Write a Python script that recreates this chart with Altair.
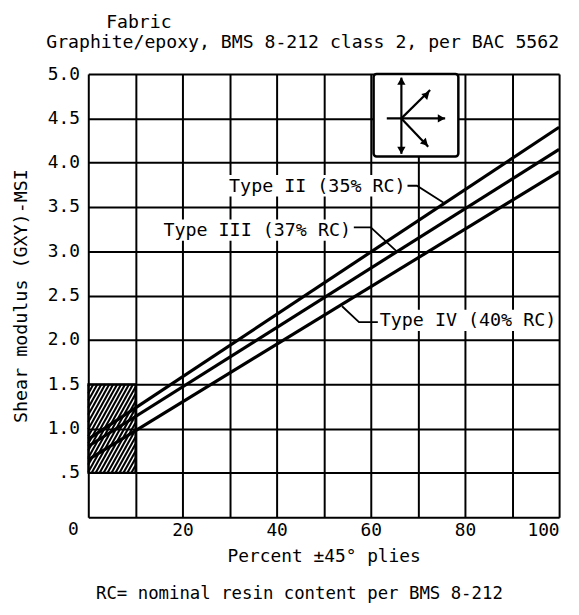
import altair as alt
import pandas as pd
import numpy as np

FONT = "DejaVu Sans Mono"
W, H = 475, 447

# ---- data ----
series_names = ["Type II (35% RC)", "Type III (37% RC)", "Type IV (40% RC)"]
x_ends = [0, 100]
type2_vals = [0.88, 4.40]
type3_vals = [0.80, 4.15]
type4_vals = [0.65, 3.90]

x_grid = [0, 10, 20, 30, 40, 50, 60, 70, 80, 90, 100]
y_grid = [0, 0.5, 1.0, 1.5, 2.0, 2.5, 3.0, 3.5, 4.0, 4.5, 5.0]

title_line1 = "Fabric"
title_line2 = "Graphite/epoxy, BMS 8-212 class 2, per BAC 5562"
footnote = "RC= nominal resin content per BMS 8-212"

# label anchors (data units)
label_x = [67.4, 55.8, 61.9]
label_y = [3.74, 3.24, 2.22]
label_align = ["right", "right", "left"]
# white boxes behind labels
lab_box_x = [28.8, 14.8, 61.5]
lab_box_x2 = [67.6, 56.0, 99.2]
lab_box_y = [3.62, 3.12, 2.10]
lab_box_y2 = [3.86, 3.36, 2.34]

# leader lines (polylines)
leader_id = [0, 0, 0, 1, 1, 1, 2, 2, 2]
leader_ord = [0, 1, 2, 0, 1, 2, 0, 1, 2]
leader_x = [67.8, 69.8, 75.4, 56.4, 60.0, 65.5, 53.9, 57.5, 61.5]
leader_y = [3.74, 3.74, 3.55, 3.27, 3.27, 3.00, 2.38, 2.20, 2.20]

# hatched zone
hatch_x, hatch_x2, hatch_y, hatch_y2 = 0, 10, 0.5, 1.5

# ply-orientation inset
inset_x, inset_x2, inset_y, inset_y2 = 60.6, 78.6, 4.07, 5.0
arrow_x = [66.5, 63.4, 66.5, 66.5]
arrow_y = [4.10, 4.50, 4.50, 4.50]
arrow_x2 = [66.5, 75.8, 72.6, 72.2]
arrow_y2 = [4.96, 4.50, 4.82, 4.18]
head_x = [66.5, 66.5, 75.0, 71.9, 71.6]
head_y = [4.92, 4.14, 4.50, 4.77, 4.22]
head_angle = [0, 180, 90, 45, 135]

# ---- tables ----
lines_df = pd.DataFrame({
    "x": x_ends * 3,
    "y": type2_vals + type3_vals + type4_vals,
    "series": [series_names[0]] * 2 + [series_names[1]] * 2 + [series_names[2]] * 2,
})
labels_df = pd.DataFrame({"x": label_x, "y": label_y, "t": series_names, "a": label_align})
labbox_df = pd.DataFrame({"x": lab_box_x, "x2": lab_box_x2, "y": lab_box_y, "y2": lab_box_y2})
leader_df = pd.DataFrame({"id": leader_id, "o": leader_ord, "x": leader_x, "y": leader_y})

# hatch strokes clipped to the zone (decorative pattern)
bw = (hatch_x2 - hatch_x) * W / 100.0
bh = (hatch_y2 - hatch_y) * H / 5.0
slope, step = 1.8, 4.0
segs = []
for c in np.arange(-bw * slope, bh, step * slope):
    u0 = max(0.0, -c / slope)
    u1 = min(bw, (bh - c) / slope)
    if u1 > u0:
        segs.append({
            "x": hatch_x + u0 * 100.0 / W, "y": hatch_y + (slope * u0 + c) * 5.0 / H,
            "x2": hatch_x + u1 * 100.0 / W, "y2": hatch_y + (slope * u1 + c) * 5.0 / H,
        })
hatch_df = pd.DataFrame(segs)
hbox_df = pd.DataFrame({"x": [hatch_x], "x2": [hatch_x2], "y": [hatch_y], "y2": [hatch_y2]})
inset_df = pd.DataFrame({"x": [inset_x], "x2": [inset_x2], "y": [inset_y], "y2": [inset_y2]})
arrow_df = pd.DataFrame({"x": arrow_x, "y": arrow_y, "x2": arrow_x2, "y2": arrow_y2})
head_df = pd.DataFrame({"x": head_x, "y": head_y, "a": head_angle})
zero_df = pd.DataFrame({"x": [0], "y": [0], "t": ["0"]})

xs = alt.Scale(domain=[0, 100], nice=False)
ys = alt.Scale(domain=[0, 5], nice=False)

x_axis = alt.Axis(values=x_grid, title="Percent \u00b145\u00b0 plies",
                  labelExpr="datum.value % 20 == 0 && datum.value > 0 ? datum.label : ''",
                  grid=True, gridColor="black", gridWidth=2, gridOpacity=1,
                  ticks=False, domain=False, labelPadding=5, titlePadding=8,
                  labelFontSize=18, titleFontSize=18, labelFont=FONT, titleFont=FONT,
                  titleFontWeight="normal", labelColor="black", titleColor="black")
y_axis = alt.Axis(values=y_grid, title="Shear modulus (GXY)-MSI",
                  labelExpr="datum.value == 0 ? '' : (datum.value < 1 ? '.5' : format(datum.value, '.1f'))",
                  grid=True, gridColor="black", gridWidth=2, gridOpacity=1,
                  ticks=False, domain=False, labelPadding=9, titlePadding=17,
                  labelFontSize=18, titleFontSize=18.5, labelFont=FONT, titleFont=FONT,
                  titleFontWeight="normal", labelColor="black", titleColor="black")

base_axes = alt.Chart(lines_df).mark_line(opacity=0).encode(
    x=alt.X("x:Q", scale=xs, axis=x_axis),
    y=alt.Y("y:Q", scale=ys, axis=y_axis),
    detail="series:N",
)

hatch = alt.Chart(hatch_df).mark_rule(color="black", strokeWidth=2.1).encode(
    x=alt.X("x:Q", scale=xs), y=alt.Y("y:Q", scale=ys), x2="x2:Q", y2="y2:Q")
hbox = alt.Chart(hbox_df).mark_rect(fill=None, stroke="black", strokeWidth=2).encode(
    x=alt.X("x:Q", scale=xs), y=alt.Y("y:Q", scale=ys), x2="x2:Q", y2="y2:Q")

labbox = alt.Chart(labbox_df).mark_rect(fill="white").encode(
    x=alt.X("x:Q", scale=xs), y=alt.Y("y:Q", scale=ys), x2="x2:Q", y2="y2:Q")

lines = alt.Chart(lines_df).mark_line(color="black", strokeWidth=3.2).encode(
    x=alt.X("x:Q", scale=xs), y=alt.Y("y:Q", scale=ys), detail="series:N")

leaders = alt.Chart(leader_df).mark_line(color="black", strokeWidth=1.8).encode(
    x=alt.X("x:Q", scale=xs), y=alt.Y("y:Q", scale=ys), detail="id:N", order="o:Q")

labels_r = alt.Chart(labels_df[labels_df.a == "right"]).mark_text(
    align="right", baseline="middle", font=FONT, fontSize=18.5, color="black").encode(
    x=alt.X("x:Q", scale=xs), y=alt.Y("y:Q", scale=ys), text="t:N")
labels_l = alt.Chart(labels_df[labels_df.a == "left"]).mark_text(
    align="left", baseline="middle", font=FONT, fontSize=18.5, color="black").encode(
    x=alt.X("x:Q", scale=xs), y=alt.Y("y:Q", scale=ys), text="t:N")

inset = alt.Chart(inset_df).mark_rect(fill="white", stroke="black", strokeWidth=2.5,
                                      cornerRadius=3).encode(
    x=alt.X("x:Q", scale=xs), y=alt.Y("y:Q", scale=ys), x2="x2:Q", y2="y2:Q")
arrows = alt.Chart(arrow_df).mark_rule(color="black", strokeWidth=2.2).encode(
    x=alt.X("x:Q", scale=xs), y=alt.Y("y:Q", scale=ys), x2="x2:Q", y2="y2:Q")
heads = alt.Chart(head_df).mark_point(shape="triangle-up", filled=True, color="black",
                                      size=70, opacity=1).encode(
    x=alt.X("x:Q", scale=xs), y=alt.Y("y:Q", scale=ys), angle=alt.Angle("a:Q", scale=None))

zero = alt.Chart(zero_df).mark_text(font=FONT, fontSize=18, color="black", dx=-15, dy=13).encode(
    x=alt.X("x:Q", scale=xs), y=alt.Y("y:Q", scale=ys), text="t:N")

foot = alt.Chart(zero_df).mark_text(
    text=footnote, font=FONT, fontSize=17.5,
    color="black", align="center", baseline="middle").encode(
    x=alt.value(213), y=alt.value(525))

t1 = alt.Chart(zero_df).mark_text(
    text=title_line1, font=FONT, fontSize=18.3, color="black",
    align="left", baseline="alphabetic").encode(x=alt.value(18), y=alt.value(-46))
t2 = alt.Chart(zero_df).mark_text(
    text=title_line2, font=FONT, fontSize=18.3, color="black",
    align="right", baseline="alphabetic").encode(x=alt.value(W), y=alt.value(-26))

chart = alt.layer(
    base_axes, hatch, hbox, labbox, lines, leaders, labels_r, labels_l,
    inset, arrows, heads, zero, foot, t1, t2,
).properties(
    width=W, height=H,
    padding={"left": 3, "top": 3, "right": 5, "bottom": 5},
).configure_view(stroke="black", strokeWidth=3).configure(background="white")

chart.save("out.html", embed_options={"renderer": "svg", "actions": False})
